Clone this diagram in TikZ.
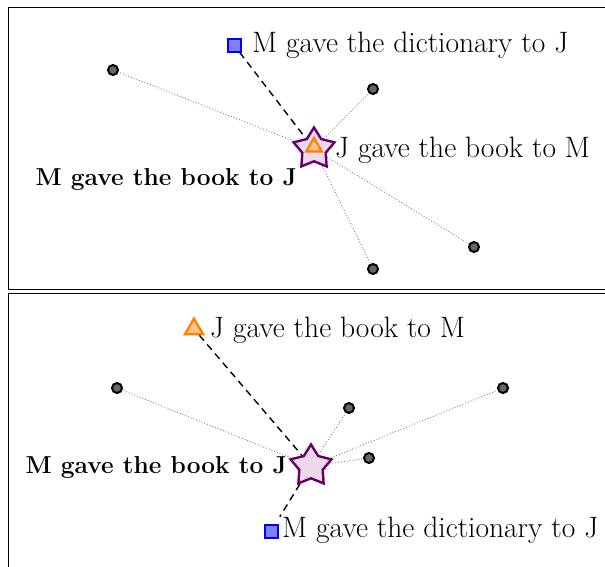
\documentclass[tikz,border=0pt]{standalone}
\usepackage{fontspec}
\usetikzlibrary{shapes.geometric}
\begin{document}
\begin{tikzpicture}[x=1pt,y=-1pt,
  lbl/.style={inner sep=0pt,font=\fontsize{29.5}{35}\selectfont},
  blbl/.style={inner sep=0pt,font=\fontsize{24.5}{29}\selectfont\bfseries},
  dotnode/.style={circle,draw=black,line width=2pt,fill=black!60,minimum size=10pt,inner sep=0pt},
  sqnode/.style={rectangle,draw=blue,line width=2pt,fill=blue!50,minimum size=13pt,inner sep=0pt},
  trinode/.style={regular polygon,regular polygon sides=3,draw=orange,line width=2.2pt,fill=orange!45,minimum size=21pt,inner sep=0pt},
  starnode/.style={star,star points=5,star point ratio=1.75,draw=violet!80!black,line width=2.4pt,fill=violet!15,minimum size=43pt,inner sep=0pt},
  dashline/.style={line width=1.4pt,dash pattern=on 7pt off 5pt},
  dotline/.style={dotted,gray,line width=0.9pt},
  frame/.style={draw=black,line width=1pt}]
\useasboundingbox (0,0) rectangle (605,566);
\draw[frame] (620,7.5) -- (8.5,7.5) -- (8.5,289) -- (620,289);
\draw[frame] (620,293) -- (8.5,293) -- (8.5,580);
% top panel
\node[starnode] (starT) at (314,149) {};
\node[trinode,minimum size=18pt] (triT) at (314,147) {};
\node[sqnode] (sqT) at (234,45) {};
\node[dotnode] (dT1) at (113,70) {};
\node[dotnode] (dT2) at (373,89) {};
\node[dotnode] (dT3) at (474,247) {};
\node[dotnode] (dT4) at (373,269) {};
\node[lbl,anchor=base west] (dictT) at (252,52) {M gave the dictionary to J};
\node[lbl,anchor=base west] (jT) at (335,157) {J gave the book to M};
\node[blbl,anchor=base east] (mT) at (297,185) {M gave the book to J};
\draw[dashline] (sqT) -- (starT);
\foreach \d in {dT1,dT2,dT3,dT4} \draw[dotline] (starT) -- (\d);
% bottom panel
\node[starnode] (starB) at (311,466) {};
\node[trinode] (triB) at (194,329) {};
\node[sqnode] (sqB) at (271,531) {};
\node[dotnode] (dB1) at (117,388) {};
\node[dotnode] (dB2) at (349,408) {};
\node[dotnode] (dB3) at (503,388) {};
\node[dotnode] (dB4) at (369,458) {};
\node[lbl,anchor=base west] (jB) at (210,337) {J gave the book to M};
\node[lbl,anchor=base west] (dictB) at (282,537) {M gave the dictionary to J};
\node[blbl,anchor=base east] (mB) at (287,473) {M gave the book to J};
\draw[dashline] (triB) -- (starB);
\draw[dashline,shorten >=8pt] (starB) -- (sqB);
\foreach \d in {dB1,dB2,dB3,dB4} \draw[dotline] (starB) -- (\d);
\end{tikzpicture}
\end{document}
